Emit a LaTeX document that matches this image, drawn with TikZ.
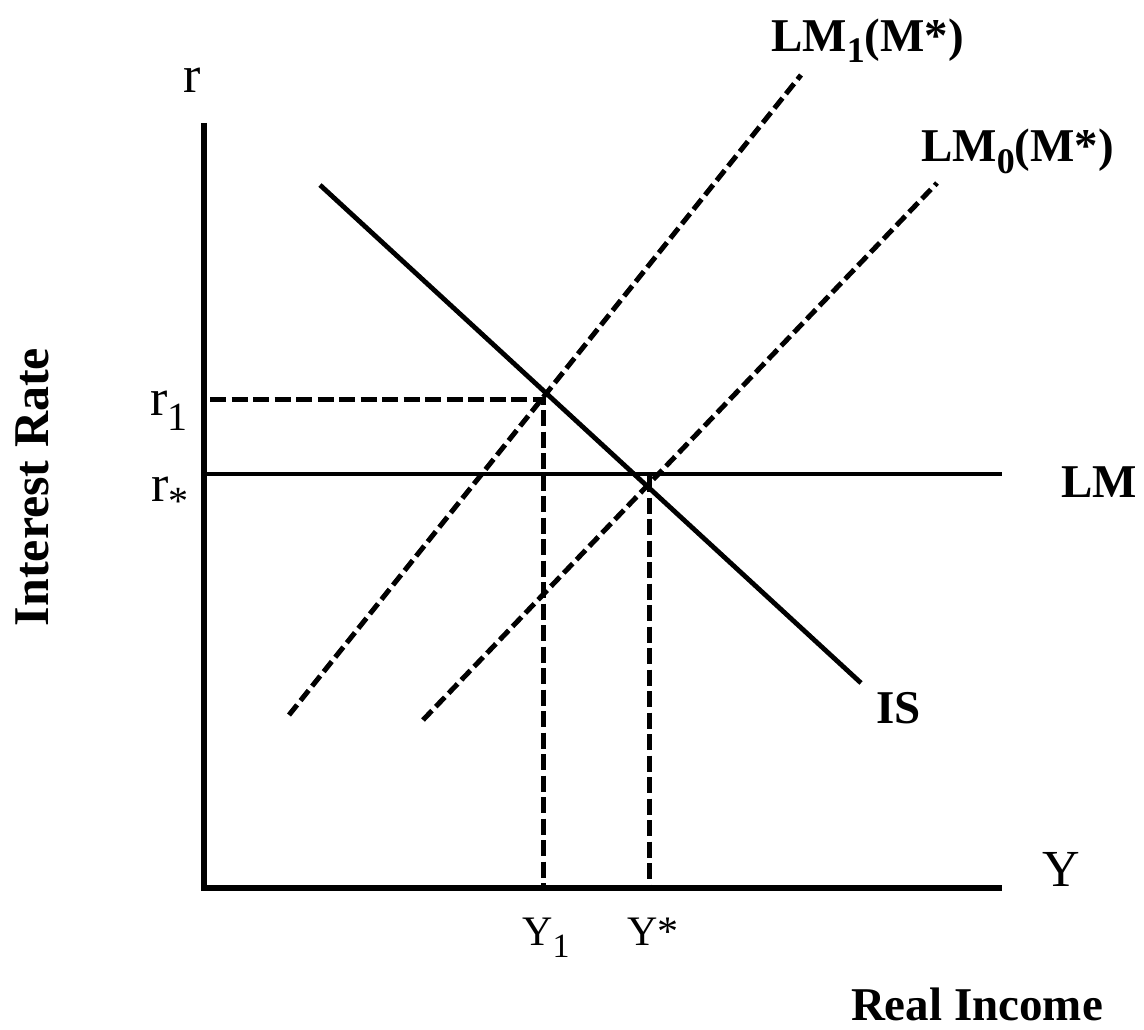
\documentclass[tikz,border=0pt]{standalone}
\usepackage{fontspec}
\setmainfont{Liberation Serif}
\begin{document}
\begin{tikzpicture}[x=1pt,y=-1pt,
  axis/.style={line width=5.5pt},
  curve/.style={line width=4.8pt},
  dcurve/.style={line width=5pt,dash pattern=on 13pt off 5.5pt},
  guide/.style={line width=5pt,dash pattern=on 16pt off 5.5pt},
  reg/.style={font=\fontsize{42}{46}\selectfont,inner sep=0pt},
  rlab/.style={font=\fontsize{52}{56}\selectfont,inner sep=0pt},
  blab/.style={font=\fontsize{47}{50}\selectfont\bfseries,inner sep=0pt}]
\useasboundingbox (0,0) rectangle (1144,1030);
% coordinates
\coordinate (ytop) at (204,123);
\coordinate (org) at (204,888);
\coordinate (xend) at (1002,888);
\coordinate (lmL) at (204,474);
\coordinate (lmR) at (1002,474);
\coordinate (isA) at (320,185);
\coordinate (isB) at (861,683);
\coordinate (lm1A) at (289,715);
\coordinate (lm1B) at (801,75);
\coordinate (lm0A) at (423,720);
\coordinate (lm0B) at (937,183);
\coordinate (r1L) at (210,399);
\coordinate (e1) at (543,399);
\coordinate (y1b) at (543,888);
\coordinate (es) at (649,476);
\coordinate (ysb) at (649,888);
% axes
\draw[axis] (ytop) -- (org) -- (xend);
% LM horizontal
\draw[curve] (lmL) -- (lmR);
% IS
\draw[curve] (isA) -- (isB);
% LM curves dashed
\draw[dcurve] (lm1A) -- (lm1B);
\draw[dcurve] (lm0A) -- (lm0B);
% guides
\draw[guide] (r1L) -- (e1) -- (y1b);
\draw[guide] (es) -- (ysb);
% labels
\node[rlab,anchor=base] (lr) at (192,93) {r};
\node[rlab,anchor=base west] (lr1) at (150,415) {r\raisebox{-0.3em}{\fontsize{40}{40}\selectfont 1}};
\node[rlab,anchor=base west] (lrs) at (151,501) {r\raisebox{-0.25em}{\fontsize{40}{40}\selectfont *}};
\node[rlab,anchor=base west] (lY) at (1042,886) {Y};
\node[reg,anchor=base west] (lY1) at (522,945) {Y\raisebox{-0.3em}{\fontsize{34}{34}\selectfont 1}};
\node[reg,anchor=base west] (lYs) at (627,945) {Y*};
\node[blab,anchor=base west] (lLM) at (1061,497) {LM};
\node[blab,anchor=base west] (lIS) at (876,723) {IS};
\node[blab,anchor=base west] (lLM1) at (771,52) {LM\raisebox{-0.22em}{\fontsize{36}{36}\selectfont\bfseries 1}(M*)};
\node[blab,anchor=base west] (lLM0) at (921,162) {LM\raisebox{-0.25em}{\fontsize{36}{36}\selectfont\bfseries 0}(M*)};
\node[blab,anchor=base,rotate=90,font=\fontsize{50}{54}\selectfont\bfseries] (lIR) at (48,487) {Interest Rate};
\node[blab,anchor=base] (lRI) at (977,1020) {Real Income};
\end{tikzpicture}
\end{document}
